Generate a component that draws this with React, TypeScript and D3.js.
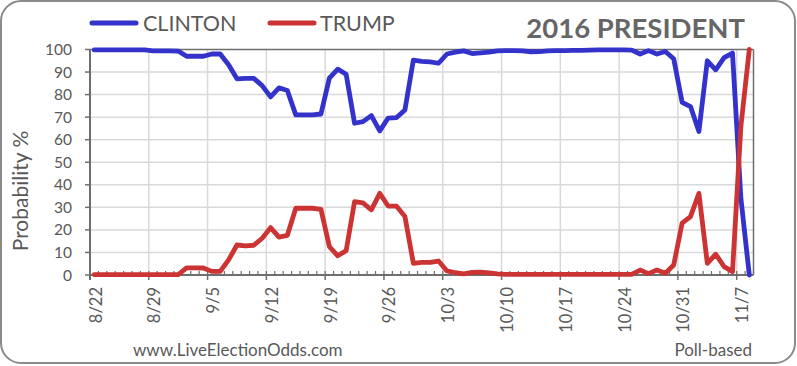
import React from "react";
import * as d3 from "d3";

const seriesNames = ["CLINTON", "TRUMP"];
const tickLabels = ["8/22", "8/29", "9/5", "9/12", "9/19", "9/26", "10/3", "10/10", "10/17", "10/24", "10/31", "11/7"];
const yTicks = [0, 10, 20, 30, 40, 50, 60, 70, 80, 90, 100];
const totalDays = 79; // 8/22 .. 11/8 daily points

const clinton = [
  99.8, 99.8, 99.8, 99.8, 99.8, 99.8, 99.8, 99.4, 99.4, 99.4,
  99.3, 97, 97, 97, 98, 98, 93.2, 87, 87.2, 87.2,
  84, 79, 83, 81.8, 71, 71, 71, 71.4, 87.3, 91.3,
  89, 67.3, 68, 70.7, 63.9, 69.6, 69.8, 73.2, 95.3, 94.7,
  94.5, 93.9, 98, 98.8, 99.4, 98.2, 98.5, 98.8, 99.4, 99.5,
  99.5, 99.4, 99, 99.1, 99.4, 99.5, 99.5, 99.6, 99.6, 99.7,
  99.8, 99.8, 99.8, 99.8, 99.7, 98, 99.5, 98, 99.1, 95.9,
  76.6, 74.7, 63.6, 95, 91, 96.4, 98.4, 34, 0,
];

const trump = [
  0.2, 0.2, 0.2, 0.2, 0.2, 0.2, 0.2, 0.2, 0.2, 0.2,
  0.2, 3.2, 3.2, 3.1, 1.6, 1.6, 6.7, 13.3, 12.9, 13.2,
  16.3, 21, 16.8, 17.6, 29.6, 29.6, 29.6, 29.1, 12.6, 8.5,
  10.8, 32.5, 32, 28.9, 36.2, 30.6, 30.5, 25.9, 5.2, 5.6,
  5.6, 6.2, 1.8, 1.0, 0.5, 1.2, 1.3, 0.9, 0.5, 0.3,
  0.3, 0.3, 0.3, 0.3, 0.3, 0.3, 0.3, 0.3, 0.3, 0.3,
  0.3, 0.3, 0.3, 0.3, 0.3, 2.2, 0.6, 2.2, 0.8, 4.4,
  23, 25.9, 36.2, 5.2, 9.2, 3.7, 1.5, 66, 100,
];

const W = 797;
const H = 366;
const FONT = "Lato, 'Open Sans', sans-serif";
const TEXT = "#595959";
const BLUE = "#3333cc";
const RED = "#cc3333";

export default function App() {
  const x = d3.scaleLinear().domain([0, totalDays]).range([90, 753.5]);
  const y = d3.scaleLinear().domain([0, 100]).range([275, 49.5]);

  const line = d3
    .line<number>()
    .x((_, i) => x(i + 0.5))
    .y((d) => y(d));

  const majorDays = tickLabels.map((_, k) => k * 7);
  const minorDays = d3.range(0, totalDays + 1);

  return (
    <svg
      width={W}
      height={H}
      style={{ position: "absolute", left: 0, top: 0, display: "block", background: "#fff" }}
      fontFamily={FONT}
    >
      <rect x={1} y={1} width={W - 3} height={H - 4} rx={20} ry={20} fill="#fff" stroke="#8a8a8a" strokeWidth={2} />

      {/* gridlines */}
      {yTicks.slice(1, -1).map((t) => (
        <line key={"gy" + t} x1={x(0)} x2={x(totalDays)} y1={y(t)} y2={y(t)} stroke="#d9d9d9" strokeWidth={1.5} />
      ))}
      {majorDays.slice(1).map((d) => (
        <line key={"gx" + d} x1={x(d)} x2={x(d)} y1={y(0)} y2={y(100)} stroke="#d9d9d9" strokeWidth={1.5} />
      ))}

      {/* plot border */}
      <line x1={x(0)} x2={x(totalDays)} y1={y(100)} y2={y(100)} stroke="#6e6e6e" strokeWidth={1.5} />
      <line x1={x(totalDays)} x2={x(totalDays)} y1={y(100)} y2={y(0)} stroke="#6e6e6e" strokeWidth={1.5} />

      {/* x minor ticks (inside) */}
      {minorDays.map((d) => (
        <line key={"mt" + d} x1={x(d)} x2={x(d)} y1={y(0) - 4} y2={y(0)} stroke="#6e6e6e" strokeWidth={1.2} />
      ))}
      {/* x major ticks (outside) */}
      {majorDays.map((d) => (
        <line key={"Mt" + d} x1={x(d)} x2={x(d)} y1={y(0)} y2={y(0) + 5} stroke="#6e6e6e" strokeWidth={1.5} />
      ))}
      {/* y ticks */}
      {yTicks.map((t) => (
        <line key={"yt" + t} x1={x(0) - 5} x2={x(0)} y1={y(t)} y2={y(t)} stroke="#6e6e6e" strokeWidth={1.5} />
      ))}

      {/* axes */}
      <line x1={x(0)} x2={x(0)} y1={y(100)} y2={y(0) + 5} stroke="#6e6e6e" strokeWidth={2} />
      <line x1={x(0)} x2={x(totalDays)} y1={y(0)} y2={y(0)} stroke="#6e6e6e" strokeWidth={2} />

      {/* y labels */}
      {yTicks.map((t) => (
        <text key={"yl" + t} x={72} y={y(t)} dy="0.36em" textAnchor="end" fontSize={15.5} fill={TEXT}>
          {t}
        </text>
      ))}
      <text
        transform={`translate(27.5, 191) rotate(-90)`}
        textAnchor="middle"
        fontSize={21}
        fill={TEXT}
      >
        Probability %
      </text>

      {/* x labels */}
      {tickLabels.map((lab, k) => (
        <text
          key={"xl" + lab}
          transform={`translate(${x(majorDays[k]) + 11.5}, 287) rotate(-90)`}
          textAnchor="end"
          fontSize={16.5}
          fill={TEXT}
        >
          {lab}
        </text>
      ))}

      {/* series */}
      <path d={line(clinton) || ""} fill="none" stroke={BLUE} strokeWidth={4.8} strokeLinejoin="round" strokeLinecap="round" />
      <path d={line(trump) || ""} fill="none" stroke={RED} strokeWidth={4.8} strokeLinejoin="round" strokeLinecap="round" />

      {/* legend */}
      <line x1={92} x2={136} y1={23} y2={23} stroke={BLUE} strokeWidth={5} strokeLinecap="round" />
      <text x={143} y={31} fontSize={21.5} fill={TEXT}>{seriesNames[0]}</text>
      <line x1={270} x2={314} y1={23} y2={23} stroke={RED} strokeWidth={5} strokeLinecap="round" />
      <text x={320} y={31} fontSize={21.5} fill={TEXT}>{seriesNames[1]}</text>

      {/* title */}
      <text x={745} y={38} textAnchor="end" fontSize={27.5} fontWeight="bold" fill="#666">
        2016 PRESIDENT
      </text>

      {/* footer */}
      <text x={133} y={356} fontSize={17} fill={TEXT}>www.LiveElectionOdds.com</text>
      <text x={752} y={356} textAnchor="end" fontSize={17} fill={TEXT}>Poll-based</text>
    </svg>
  );
}
